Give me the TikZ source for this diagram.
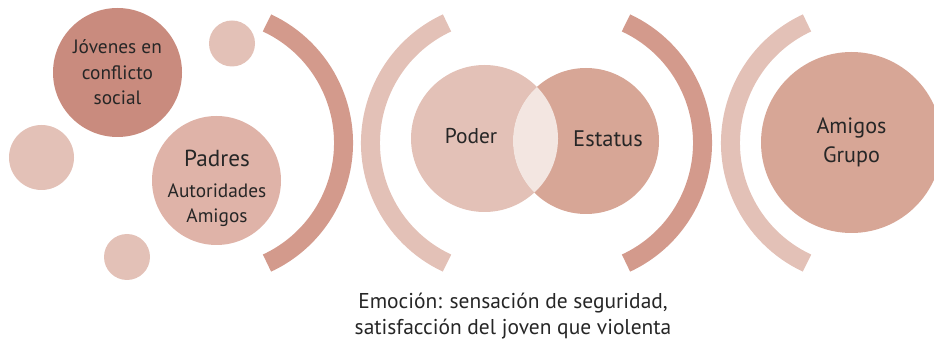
\documentclass[tikz,border=0pt]{standalone}
\usepackage{fontspec}
\setmainfont{PT Sans}
\usepackage{tikz}
\usetikzlibrary{positioning}
\usepackage{xcolor}
\definecolor{youthcolor}{RGB}{201, 139, 126}
\definecolor{ringcolor}{RGB}{211, 154, 140}
\definecolor{parentcolor}{RGB}{223, 179, 168}
\definecolor{palecolor}{RGB}{227, 193, 183}
\definecolor{statuscolor}{RGB}{215, 166, 150}
\definecolor{lenscolor}{RGB}{243, 230, 225}
\definecolor{inkcolor}{RGB}{38, 38, 38}

\begin{document}
\begin{tikzpicture}[
    bubble/.style={circle, fill=#1, inner sep=0pt, text=inkcolor, align=center},
    smalldot/.style={circle, fill=palecolor, inner sep=0pt, minimum size=#1},
    ring/.style={line width=0.38cm, line cap=butt},
    txt/.style={text=inkcolor, align=center, inner sep=0pt}
]
    \clip (0, 0) rectangle (18.68, 6.9);

    % Left group
    \node[bubble=youthcolor, minimum size=2.58cm, font=\fontsize{11}{14.5}\selectfont] (jov) at (2.35, 5.45)
        {J\'ovenes en\\conflicto\\social};
    \node[smalldot=0.92cm] (d1) at (4.64, 6.03) {};
    \node[smalldot=1.30cm] (d2) at (0.83, 3.75) {};
    \node[smalldot=0.92cm] (d3) at (2.54, 1.76) {};
    \node[bubble=parentcolor, minimum size=2.58cm] (pad) at (4.33, 3.29) {};
    \node[txt, font=\fontsize{13.2}{16}\selectfont] (padtxt) at (4.34, 3.74) {Padres};
    \node[txt, font=\fontsize{11}{14.2}\selectfont] (padsub) at (4.34, 2.80) {Autoridades\\Amigos};

    % Rings
    \coordinate (ra) at (4.22, 4.04);
    \coordinate (rb) at (10.06, 4.04);
    \coordinate (rc) at (11.40, 4.04);
    \coordinate (rd) at (17.26, 4.04);
    \draw[ring, ringcolor] ([shift={(-65:2.65)}]ra) arc[start angle=-65, end angle=65, radius=2.65];
    \draw[ring, palecolor] ([shift={(115:2.65)}]rb) arc[start angle=115, end angle=245, radius=2.65];
    \draw[ring, ringcolor] ([shift={(-65:2.65)}]rc) arc[start angle=-65, end angle=65, radius=2.65];
    \draw[ring, palecolor] ([shift={(115:2.65)}]rd) arc[start angle=115, end angle=245, radius=2.65];

    % Middle pair
    \node[bubble=palecolor, minimum size=2.94cm] (pod) at (9.69, 4.13) {};
    \node[bubble=statuscolor, minimum size=2.92cm] (est) at (11.72, 4.08) {};
    \begin{scope}
        \clip (pod.center) circle[radius=1.47];
        \fill[lenscolor] (est.center) circle[radius=1.46];
    \end{scope}
    \node[txt, font=\fontsize{12.2}{16}\selectfont] (podtxt) at (9.42, 4.17) {Poder};
    \node[txt, font=\fontsize{12.8}{16}\selectfont] (esttxt) at (12.16, 4.13) {Estatus};

    % Right group
    \node[bubble=statuscolor, minimum size=3.62cm, font=\fontsize{12.6}{16.5}\selectfont] (ami) at (17.03, 4.05)
        {Amigos\\Grupo};

    % Caption
    \node[txt, font=\fontsize{12.2}{15}\selectfont] (cap) at (10.26, 0.58)
        {Emoci\'on: sensaci\'on de seguridad,\\satisfacci\'on del joven que violenta};
\end{tikzpicture}
\end{document}
